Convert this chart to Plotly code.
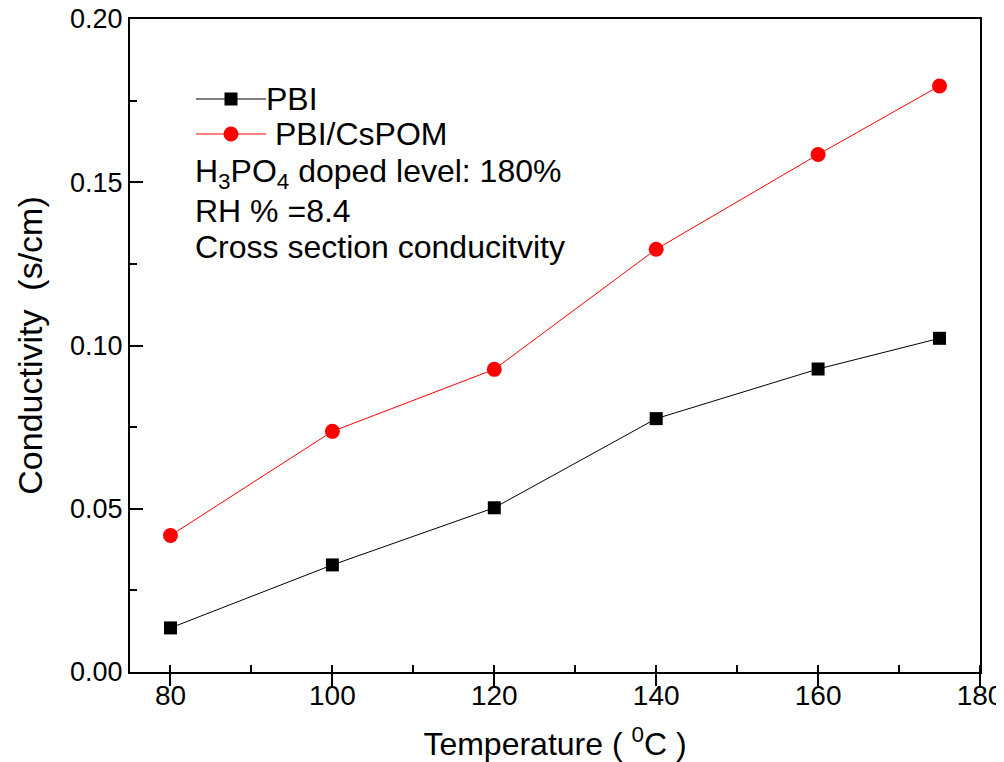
import plotly.graph_objects as go

temperature = [80, 100, 120, 140, 160, 175]
pbi = [0.0135, 0.0328, 0.0503, 0.0776, 0.0928, 0.1022]
pbi_cspom = [0.0418, 0.0737, 0.0927, 0.1295, 0.1585, 0.1795]

series_names = ["PBI", "PBI/CsPOM"]
notes = ["H<sub>3</sub>PO<sub>4</sub> doped level: 180%", "RH % =8.4", "Cross section conducitvity"]

FONT = "Arial, Liberation Sans, sans-serif"

fig = go.Figure()
fig.add_trace(go.Scatter(x=temperature, y=pbi, mode="lines+markers", name=series_names[0],
                         line=dict(color="black", width=1),
                         marker=dict(symbol="square", size=13, color="black"), showlegend=False))
fig.add_trace(go.Scatter(x=temperature, y=pbi_cspom, mode="lines+markers", name=series_names[1],
                         line=dict(color="#ff0000", width=1),
                         marker=dict(symbol="circle", size=15, color="#ff0000"), showlegend=False))

# page offset of the figure (browser body margin)
OFF = 8
W, H = 996, 754
# desired plot-area edges in page pixels: left 130, right 980, top 19, bottom 672
ml = 130 - OFF
mt = 19 - OFF
mr = W - (980 - OFF)
mb = H - (672 - OFF)
pw, ph = W - ml - mr, H - mt - mb

def px(x):
    return (x - OFF - ml) / pw

def py(y):
    return 1 - (y - OFF - mt) / ph

shapes = []
annotations = []
# custom legend
leg = [(99, "black", "square", series_names[0], 264), (134, "#ff0000", "circle", series_names[1], 273)]
for yy, col, sym, name, tx in leg:
    shapes.append(dict(type="line", xref="paper", yref="paper", x0=px(196), x1=px(266), y0=py(yy), y1=py(yy),
                       line=dict(color=col, width=1)))
    r = 6.5 if sym == "square" else 7.5
    shapes.append(dict(type="rect" if sym == "square" else "circle", xref="paper", yref="paper",
                       x0=px(231 - r), x1=px(231 + r), y0=py(yy - r), y1=py(yy + r),
                       fillcolor=col, line=dict(color=col, width=0)))
    annotations.append(dict(text=name, xref="paper", yref="paper", x=px(tx), y=py(yy), xanchor="left",
                            yanchor="middle", showarrow=False, font=dict(family=FONT, size=32, color="black")))
for i, t in enumerate(notes):
    annotations.append(dict(text=t, xref="paper", yref="paper", x=px(193), y=py([174, 211, 247][i]),
                            xanchor="left", yanchor="middle", showarrow=False,
                            font=dict(family=FONT, size=32, color="black")))

fig.update_layout(
    width=W, height=H,
    margin=dict(l=ml, r=mr, t=mt, b=mb),
    paper_bgcolor="white", plot_bgcolor="white",
    font=dict(family=FONT, color="black"),
    shapes=shapes, annotations=annotations,
    xaxis=dict(range=[75, 180], dtick=20, tick0=80, ticks="outside", ticklen=12, tickwidth=2,
               tickcolor="black", showline=True, linecolor="black", linewidth=2, mirror=True,
               showgrid=False, zeroline=False, tickfont=dict(size=28), automargin=False,
               ticklabeloverflow="allow", ticklabelstandoff=-15,
               minor=dict(dtick=10, ticks="inside", ticklen=7, tickwidth=2, tickcolor="black", showgrid=False),
               title=dict(text="Temperature ( <sup>0</sup>C )", font=dict(size=32), standoff=28)),
    yaxis=dict(range=[0, 0.2], dtick=0.05, tickformat=".2f", ticks="inside", ticklen=13, tickwidth=2,
               tickcolor="black", showline=True, linecolor="black", linewidth=2, mirror=True,
               showgrid=False, zeroline=False, tickfont=dict(size=27), automargin=False,
               ticklabeloverflow="allow",
               minor=dict(dtick=0.025, ticks="inside", ticklen=7, tickwidth=2, tickcolor="black", showgrid=False),
               title=dict(text="Conductivity  (s/cm)", font=dict(size=34), standoff=17)),
)

fig.write_html("out.html")
